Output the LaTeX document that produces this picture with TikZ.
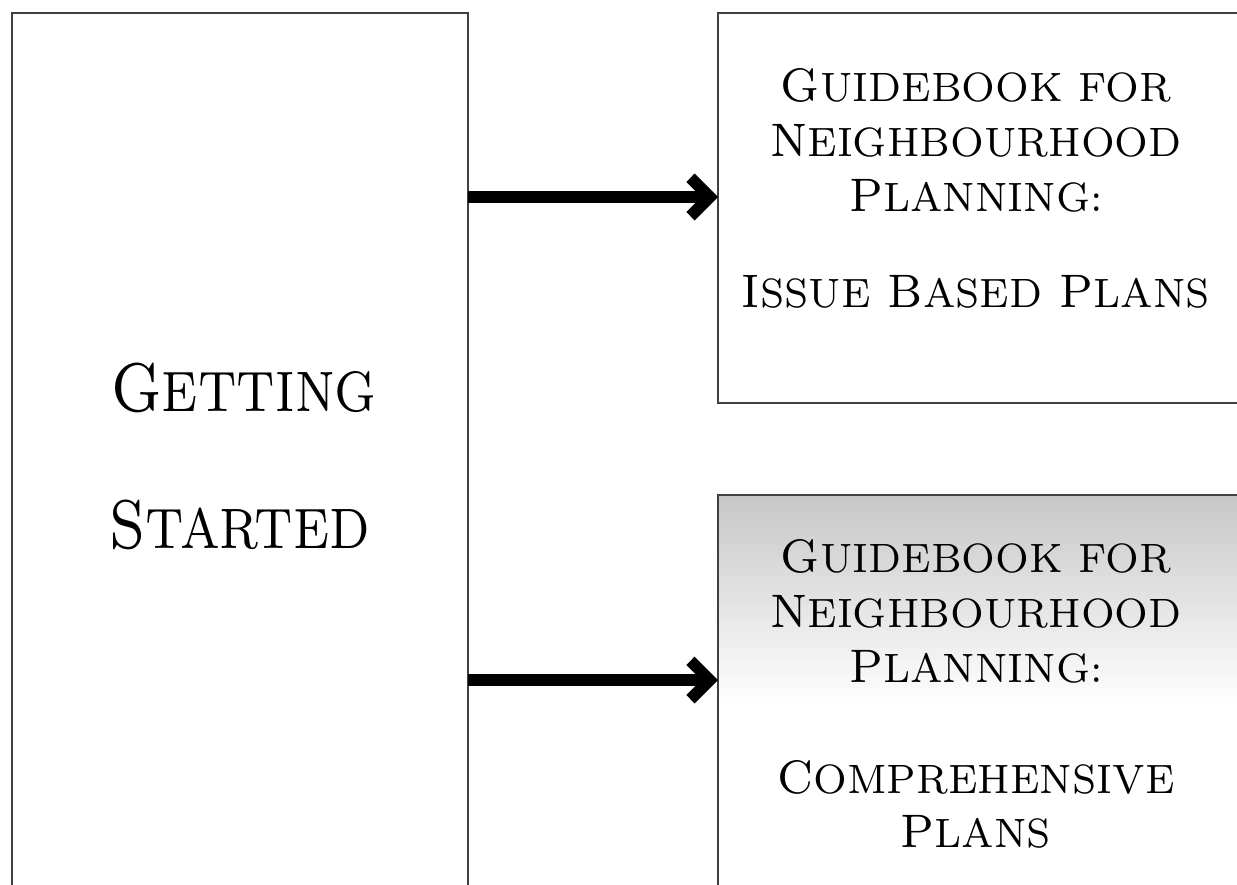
\documentclass[tikz,border=0pt]{standalone}
\usepackage{fontspec}
\newfontfamily\trj{lmroman7-regular.otf}[FakeStretch=0.94]
\newfontfamily\trjL{lmroman7-regular.otf}[FakeStretch=0.83]
\newcommand{\smA}[1]{{\fontsize{41}{41}\selectfont #1}}
\newcommand{\smB}[1]{{\fontsize{57}{57}\selectfont #1}}
\begin{document}
\begin{tikzpicture}[x=1pt,y=-1pt,
  box/.style={draw=black!75, line width=1.3pt, rectangle, inner sep=0pt, outer sep=0pt, anchor=north west},
  conn/.style={line width=12pt, black, shorten >=16pt},
  bigtxt/.style={font=\trjL\fontsize{69}{69}\selectfont, anchor=base, inner sep=0pt},
  txt/.style={font=\trj\fontsize{47}{47}\selectfont, anchor=base, inner sep=0pt},
  chev/.pic={\fill[black] (0,0) -- (-23.4,23.4) -- (-31.7,15) -- (-16.7,0) -- (-31.7,-15) -- (-23.4,-23.4) -- cycle;}]
\useasboundingbox (0,0) rectangle (1237,884);
\clip (0,0) rectangle (1237,884);
% boxes
\node[box, minimum width=456pt, minimum height=900pt] (left) at (12,13) {};
\node[box, minimum width=540pt, minimum height=390pt] (topbox) at (718,13) {};
\node[box, minimum width=540pt, minimum height=420pt,
      top color=black!22, bottom color=white, middle color=white] (botbox) at (718,495) {};
% text
\node[bigtxt] (t1) at (244,411) {G\smB{ETTING}};
\node[bigtxt] (t2) at (240,548) {S\smB{TARTED}};
\node[txt] (a1) at (976,101) {G\smA{UIDEBOOK FOR}};
\node[txt] (a2) at (976,156) {N\smA{EIGHBOURHOOD}};
\node[txt] (a3) at (976,211) {P\smA{LANNING:}};
\node[txt] (a4) at (976,307) {I\smA{SSUE} B\smA{ASED} P\smA{LANS}};
\node[txt] (b1) at (976,572) {G\smA{UIDEBOOK FOR}};
\node[txt] (b2) at (976,627) {N\smA{EIGHBOURHOOD}};
\node[txt] (b3) at (976,682) {P\smA{LANNING:}};
\node[txt] (b4) at (976,793) {C\smA{OMPREHENSIVE}};
\node[txt] (b5) at (976,847) {P\smA{LANS}};
% connectors
\coordinate (tip1) at (topbox.west |- 0,197);
\coordinate (tip2) at (botbox.west |- 0,680);
\draw[conn] (left.east |- tip1) -- (tip1);
\draw[conn] (left.east |- tip2) -- (tip2);
\pic at (tip1) {chev};
\pic at (tip2) {chev};
\end{tikzpicture}
\end{document}
